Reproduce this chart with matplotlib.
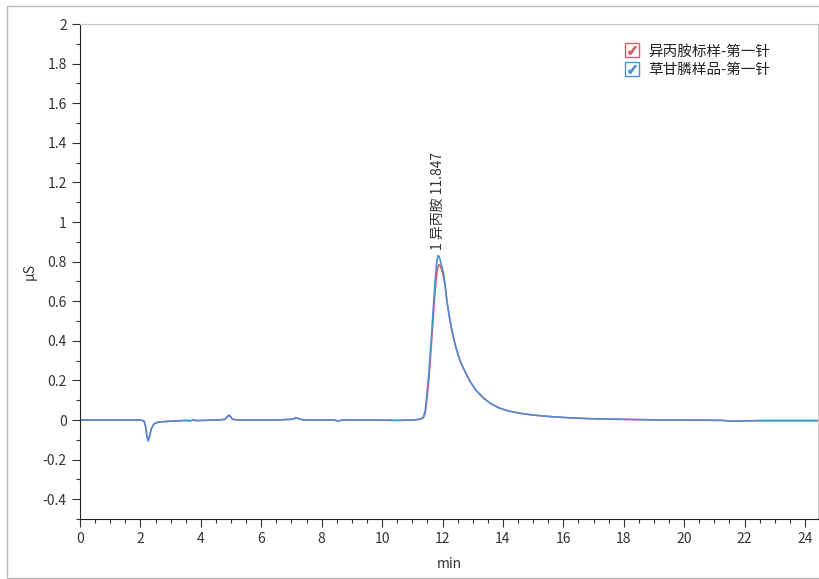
import matplotlib
matplotlib.use("Agg")
import matplotlib.pyplot as plt
from matplotlib.lines import Line2D
from matplotlib.legend_handler import HandlerTuple
from matplotlib.patches import Rectangle
from matplotlib.ticker import MultipleLocator, FuncFormatter

plt.rcParams['font.family'] = ['Noto Sans CJK SC', 'DejaVu Sans']

times = [0, 1.0, 2.0, 2.12, 2.18, 2.22, 2.26, 2.30, 2.36, 2.45, 2.6, 3.0, 3.5, 3.65, 3.75, 3.85,
         4.5, 4.8, 4.88, 4.93, 4.98, 5.05, 5.3, 6.5, 7.05, 7.15, 7.25, 7.4, 8.4, 8.55, 8.7, 9.5,
         10.5, 11.0, 11.2, 11.3, 11.37, 11.43, 11.48, 11.54, 11.59, 11.65, 11.70, 11.75, 11.79,
         11.82, 11.85, 11.88, 11.92, 11.97, 12.03, 12.09, 12.14, 12.22, 12.31, 12.44, 12.58,
         12.75, 12.91, 13.1, 13.35, 13.6, 13.9, 14.2, 14.57, 15.0, 15.5, 16.1, 16.8, 17.65,
         18.5, 19.4, 20.5, 21.3, 21.5, 22.5, 24.43]

sample_values = [0, 0, 0, -0.005, -0.04, -0.09, -0.106, -0.085, -0.045, -0.02, -0.01, -0.006,
                 -0.002, -0.004, 0.0, -0.003, 0, 0.003, 0.018, 0.025, 0.018, 0.003, 0, 0, 0.004,
                 0.012, 0.006, 0.0, 0, -0.005, 0, 0, -0.002, 0, 0.003, 0.008, 0.017, 0.05, 0.127,
                 0.22, 0.33, 0.46, 0.58, 0.69, 0.77, 0.81, 0.83, 0.828, 0.81, 0.78, 0.745, 0.68,
                 0.61, 0.53, 0.455, 0.37, 0.30, 0.243, 0.196, 0.152, 0.112, 0.083, 0.059, 0.045,
                 0.034, 0.025, 0.018, 0.012, 0.007, 0.004, 0.002, 0.0, -0.001, -0.002, -0.006,
                 -0.003, -0.003]

standard_values = [0, 0, 0, -0.005, -0.038, -0.085, -0.10, -0.082, -0.043, -0.02, -0.01, -0.006,
                   -0.002, -0.004, 0.0, -0.003, 0, 0.003, 0.017, 0.024, 0.017, 0.003, 0, 0, 0.004,
                   0.011, 0.006, 0.0, 0, -0.005, 0, 0, -0.002, 0, 0.002, 0.006, 0.012, 0.035, 0.10,
                   0.19, 0.29, 0.42, 0.53, 0.64, 0.71, 0.75, 0.775, 0.785, 0.78, 0.76, 0.725, 0.672,
                   0.605, 0.525, 0.45, 0.366, 0.298, 0.242, 0.195, 0.151, 0.111, 0.082, 0.059, 0.045,
                   0.034, 0.025, 0.018, 0.012, 0.007, 0.004, 0.002, 0.0, -0.001, -0.002, -0.006,
                   -0.003, -0.003]

series_names = ['异丙胺标样-第一针', '草甘膦样品-第一针']
peak_label = '1 异丙胺 11.847'
peak_time = 11.847
peak_value = 0.83

red = '#DC5A64'
blue = '#4A90D9'

fig = plt.figure(figsize=(8.2, 5.79), dpi=100)
ax = fig.add_axes([80/820, 1 - 519/579, (818-80)/820, (519-24)/579])

ax.plot(times, standard_values, color=red, lw=1.15)
ax.plot(times, sample_values, color=blue, lw=1.15)

ax.set_xlim(0, 24.43)
ax.set_ylim(-0.5, 2.0)
ax.xaxis.set_major_locator(MultipleLocator(2))
ax.xaxis.set_minor_locator(MultipleLocator(0.5))
ax.yaxis.set_major_locator(MultipleLocator(0.2))
ax.yaxis.set_minor_locator(MultipleLocator(0.1))

def fmt(v, pos):
    s = f'{v:.1f}'
    if s.endswith('.0'):
        s = s[:-2]
    if s == '-0':
        s = '0'
    return s
ax.yaxis.set_major_formatter(FuncFormatter(fmt))

ax.tick_params(which='major', direction='out', length=6, width=0.8, colors='#333333', labelsize=10)
ax.tick_params(which='minor', direction='out', length=3, width=0.8, colors='#333333')
for side in ['top', 'right']:
    ax.spines[side].set_color('#C8C8C8')
for side in ['left', 'bottom']:
    ax.spines[side].set_color('#222222')

ax.set_xlabel('min', fontsize=10, color='#333333', labelpad=8)
ax.set_ylabel('μS', fontsize=10, color='#333333', labelpad=4)

ax.annotate(peak_label, xy=(peak_time, peak_value), xytext=(0, 4), textcoords='offset points',
            rotation=90, ha='center', va='bottom', fontsize=10, color='#333333')

handles = []
for c in [red, blue]:
    box = Line2D([], [], marker='s', ls='', mfc='white', mec=c, ms=10, mew=1.0)
    chk = Line2D([], [], marker=r'$\checkmark$', ls='', color=c, ms=5.5)
    handles.append((box, chk))
leg = ax.legend(handles, series_names, handler_map={tuple: HandlerTuple(ndivide=1)},
                loc='upper right', bbox_to_anchor=(0.953, 0.985), frameon=False, fontsize=10.5,
                handlelength=1.0, handletextpad=0.6, labelspacing=0.3)
for t in leg.get_texts():
    t.set_color('#222222')

fig.patches.append(Rectangle((7/820, 0.002), 1.0, 1 - 6/579 - 0.002, transform=fig.transFigure,
                             fill=False, edgecolor='#BBBBBB', lw=1.0))

fig.savefig('out.png', dpi=100)
